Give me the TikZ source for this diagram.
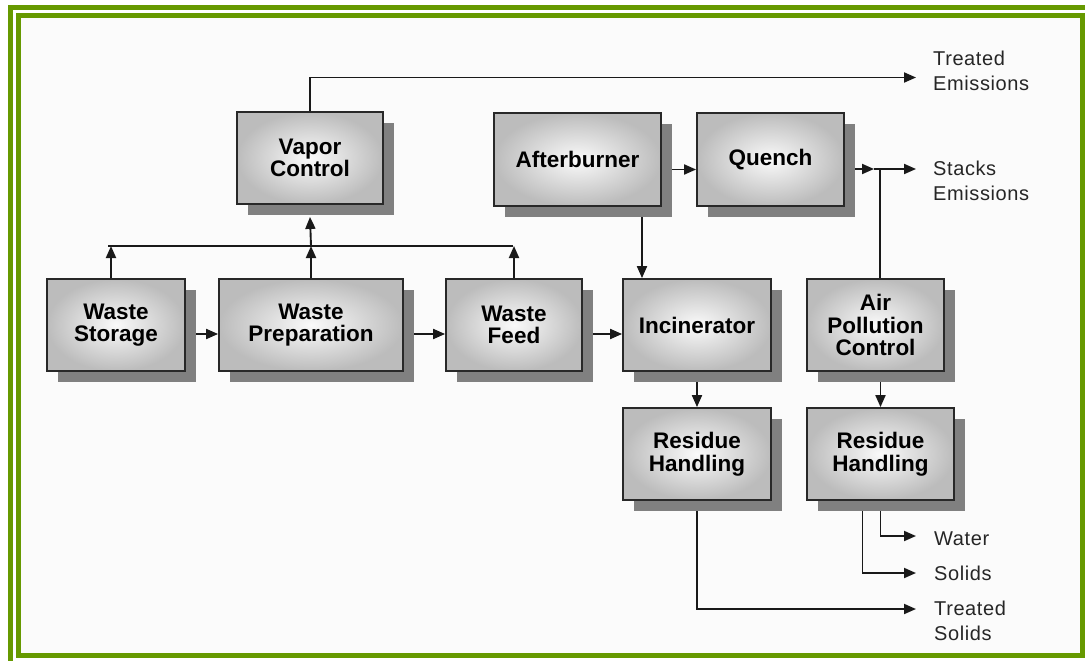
\documentclass[tikz,border=0pt]{standalone}
\usepackage{fontspec}
\setmainfont{Liberation Sans}
\usetikzlibrary{arrows.meta,shadows,backgrounds}
\definecolor{framegreen}{RGB}{102,153,0}
\definecolor{pagebg}{RGB}{251,251,251}
\definecolor{boxline}{RGB}{40,40,40}
\definecolor{boxin}{RGB}{250,250,250}
\definecolor{boxout}{RGB}{188,188,188}
\definecolor{shadowc}{RGB}{128,128,128}
\definecolor{linec}{RGB}{25,25,25}
\begin{document}
\begin{tikzpicture}[x=1pt,y=-1pt,
  box/.style={draw=boxline, line width=1.8pt, inner color=boxin, outer color=boxout,
    minimum height=92pt, align=center, inner sep=0pt,
    font=\bfseries\fontsize{22.5}{22.5}\selectfont, text=black,
    drop shadow={opacity=1, fill=shadowc, shadow xshift=11pt, shadow yshift=-11pt}},
  lbl/.style={anchor=west, inner sep=0pt, align=left,
    font=\addfontfeatures{LetterSpace=3}\fontsize{20}{24.5}\selectfont, text=black!85},
  conn/.style={draw=linec, line width=1.9pt, -{Triangle[length=12pt,width=10pt]}},
  plain/.style={draw=linec, line width=1.9pt}]
\useasboundingbox (0,0) rectangle (1085,661);
\clip (0,0) rectangle (1085,661);

% boxes
\node[box, minimum width=146pt] (vapor) at (310,158) {Vapor\\Control};
\node[box, minimum width=138pt] (storage) at (116,325) {Waste\\Storage};
\node[box, minimum width=184pt] (prep) at (311,325) {Waste\\Preparation};
\node[box, minimum width=136pt] (feed) at (514,325) {Waste\\Feed};
\node[box, minimum width=148pt] (incin) at (697,325) {Incinerator};
\node[box, minimum width=137pt] (apc) at (875.5,325) {Air\\Pollution\\Control};
\node[box, minimum width=167pt, minimum height=93pt] (after) at (577.5,159.5) {Afterburner};
\node[box, minimum width=147pt, minimum height=93pt] (quench) at (770.5,159.5) {Quench};
\node[box, minimum width=148pt] (res1) at (697,454) {Residue\\Handling};
\node[box, minimum width=147pt] (res2) at (880.5,454) {Residue\\Handling};

% labels
\node[lbl] (ltem) at (933,71) {Treated\\Emissions};
\node[lbl] (lstk) at (933,181) {Stacks\\Emissions};
\node[lbl] (lwat) at (934,539) {Water};
\node[lbl] (lsol) at (934,573) {Solids};
\node[lbl] (ltso) at (934,621) {Treated\\Solids};

% connector end points
\coordinate (busL) at (108,246);
\coordinate (busR) at (513,246);
\coordinate (tem) at (916,77.5);
\coordinate (jn) at (880,169);
\coordinate (stk) at (916,169);
\coordinate (wat) at (916,536);
\coordinate (sol) at (916,573);
\coordinate (tso) at (916,609);

\begin{pgfonlayer}{background}
\fill[white] (0,0) rectangle (1085,661);
\fill[pagebg] (18.5,15.5) rectangle (1082.5,655.5);
\draw[conn] ([yshift=-9pt]storage.east) -- ([yshift=-9pt]prep.west);
\draw[conn] ([yshift=-9pt]prep.east) -- ([yshift=-9pt]feed.west);
\draw[conn] ([yshift=-9pt]feed.east) -- ([yshift=-9pt]incin.west);
\draw[plain] (busL) -- (busR);
\draw[conn] ([xshift=-5pt]storage.north) -- ([xshift=-5pt]storage.north |- busL);
\draw[conn] (prep.north) -- (prep.north |- busL);
\draw[conn] (feed.north) -- (feed.north |- busL);
\draw[conn] (prep.north |- busL) -- ([yshift=-12pt]vapor.south);
\draw[conn] (vapor.north) -- (vapor.north |- tem) -- (tem);
\draw[conn] ([yshift=-10pt]after.east) -- ([yshift=-10pt]quench.west);
\draw[conn] (quench.east |- jn) -- ([xshift=-6pt]jn);
\draw[conn] ([xshift=-6pt]jn) -- (stk);
\draw[plain] (apc.north -| jn) -- (jn);
\draw[conn] ([xshift=64.5pt]after.south) -- ([xshift=64.5pt]after.south |- incin.north);
\draw[conn] (incin.south) -- (res1.north);
\draw[conn] (apc.south -| res2.north) -- (res2.north);
\draw[conn] (res1.south) -- (res1.south |- tso) -- (tso);
\draw[conn] (res2.south) -- (res2.south |- wat) -- (wat);
\draw[conn] ([xshift=-18pt]res2.south) -- ([xshift=-18pt]res2.south |- sol) -- (sol);
\end{pgfonlayer}

% frame
\draw[framegreen, line width=5pt] (10.5,7.5) rectangle (1200,700);
\draw[framegreen, line width=5pt] (18.5,15.5) rectangle (1082.5,655.5);
\end{tikzpicture}
\end{document}
